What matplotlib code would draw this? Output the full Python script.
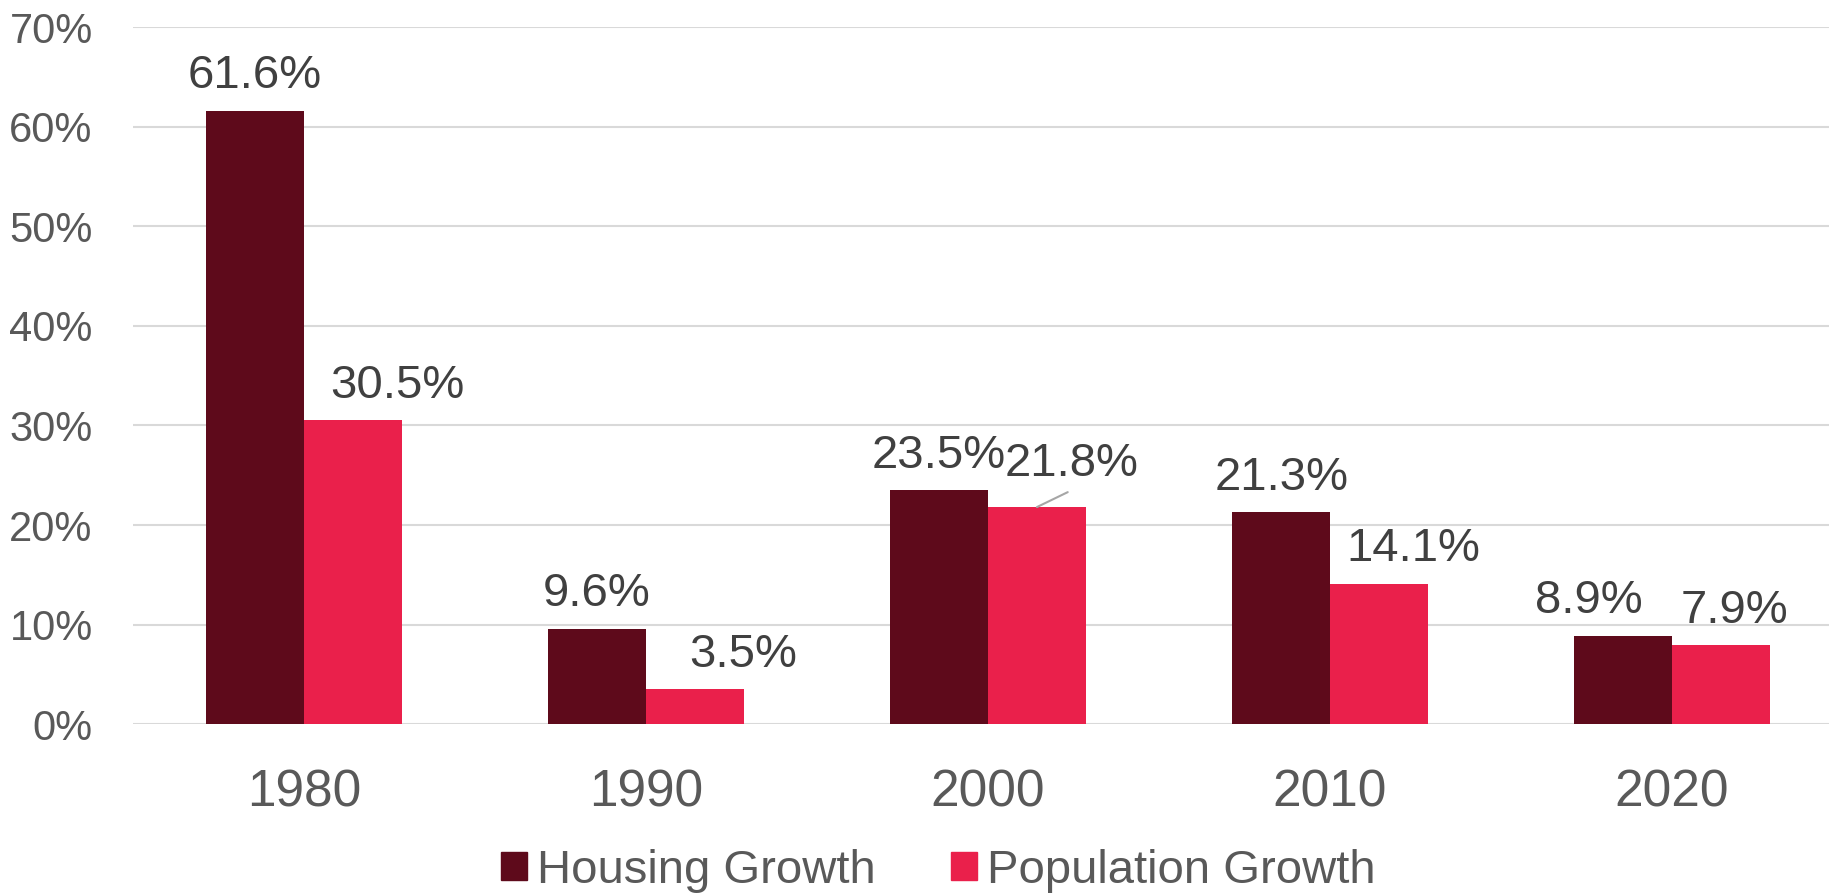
import matplotlib
matplotlib.use("Agg")
import matplotlib.pyplot as plt
from matplotlib.patches import Patch
import numpy as np

years = ["1980", "1990", "2000", "2010", "2020"]
housing = [61.6, 9.6, 23.5, 21.3, 8.9]
population = [30.5, 3.5, 21.8, 14.1, 7.9]
yticks = [0, 10, 20, 30, 40, 50, 60, 70]

# label layout tweaks (data-unit x shifts), not data
housing_dx = [0, 0, 0, 0, -0.10]
population_dx = [0.13, 0.14, 0.10, 0.10, 0.04]

C_H = "#5E0A1B"
C_P = "#EA204B"
TXT = "#404040"
TICK = "#595959"

plt.rcParams["font.family"] = ["Liberation Sans", "DejaVu Sans"]

fig = plt.figure(figsize=(18.29, 8.94), dpi=100)
ax = fig.add_axes([0.0727, 0.190, 0.935, 0.7796])

x = np.arange(len(years))
w = 0.286
ax.bar(x - w / 2, housing, w, color=C_H, zorder=3)
ax.bar(x + w / 2, population, w, color=C_P, zorder=3)

ax.set_xlim(-0.5, 4.5)
ax.set_ylim(0, 70)
ax.set_yticks(yticks)
ax.set_yticklabels([f"{v}%" for v in yticks])
ax.set_xticks(x)
ax.set_xticklabels(years)
ax.tick_params(axis="y", length=0, pad=29, labelsize=30, labelcolor=TICK)
ax.tick_params(axis="x", length=0, pad=32, labelsize=37, labelcolor=TICK)
ax.grid(axis="y", color="#D9D9D9", linewidth=1.5, zorder=0)
for s in ax.spines.values():
    s.set_visible(False)

LS = 34
for i, v in enumerate(housing):
    ax.annotate(f"{v}%", (x[i] - w / 2 + housing_dx[i], v), xytext=(0, 9),
                textcoords="offset points", ha="center", va="bottom",
                fontsize=LS, color=TXT)
for i, v in enumerate(population):
    if i == 2:
        ax.annotate(f"{v}%", (x[i] + w / 2 + population_dx[i], v), xytext=(0, 15),
                    textcoords="offset points", ha="center", va="bottom",
                    fontsize=LS, color=TXT)
        ax.annotate("", xy=(x[i] + w / 2, v), xytext=(x[i] + w / 2 + 0.09, v + 1.5),
                    arrowprops=dict(arrowstyle="-", color="#A6A6A6", lw=1.5,
                                    shrinkA=0, shrinkB=0))
    else:
        ax.annotate(f"{v}%", (x[i] + w / 2 + population_dx[i], v), xytext=(0, 9),
                    textcoords="offset points", ha="center", va="bottom",
                    fontsize=LS, color=TXT)

handles = [Patch(color=C_H, label="Housing Growth"), Patch(color=C_P, label="Population Growth")]
leg = fig.legend(handles=handles, loc="center", bbox_to_anchor=(0.513, 0.026), ncol=2,
                 frameon=False, fontsize=34, handlelength=0.55, handleheight=0.55,
                 handletextpad=0.2, columnspacing=1.6)
for t in leg.get_texts():
    t.set_color(TICK)

fig.savefig("out.png", dpi=100)
